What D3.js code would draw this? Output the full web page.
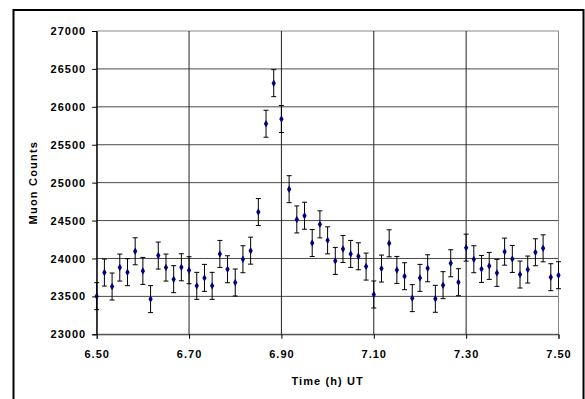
<!DOCTYPE html>
<html>
<head>
<meta charset="utf-8">
<script src="https://cdn.jsdelivr.net/npm/d3@7"></script>
<style>
  body { margin: 0; background: #fff; }
  text { font-family: "Liberation Sans", Arial, sans-serif; font-weight: bold; }
</style>
</head>
<body>
<div id="chart"></div>
<script>
// one reading per minute from 6.50 h to 7.50 h UT
const startHour = 6.5;
const stepHour = 1 / 60;
const counts = [
  23503, 23814, 23630, 23880, 23819, 24095, 23836, 23464, 24038, 23880,
  23727, 23884, 23845, 23639, 23744, 23639, 24060, 23858, 23683, 23990,
  24103, 24612, 25777, 26312, 25839, 24914, 24515, 24564, 24204, 24450,
  24239, 23968, 24125, 24060, 24029, 23893, 23525, 23867, 24200, 23849,
  23766, 23477, 23744, 23871, 23468, 23648, 23937, 23687, 24143, 23990,
  23862, 23902, 23810, 24090, 23994, 23788, 23854, 24082, 24134, 23753,
  23779
];
const errorBar = 178;
const yTicks = [23000, 23500, 24000, 24500, 25000, 25500, 26000, 26500, 27000];
const xTicks = [6.5, 6.7, 6.9, 7.1, 7.3, 7.5];

const width = 585;
const height = 399;
const margin = { left: 96.7, right: 26.5, top: 31, bottom: 64.7 };

const svg = d3.select("#chart").append("svg")
  .attr("width", width)
  .attr("height", height);

svg.append("rect").attr("width", width).attr("height", height).attr("fill", "#fff");

// outer chart frame
svg.append("rect")
  .attr("x", 13.5).attr("y", 10)
  .attr("width", 570).attr("height", 420)
  .attr("fill", "none")
  .attr("stroke", "#000")
  .attr("stroke-width", 2);

const x = d3.scaleLinear().domain([6.5, 7.5]).range([margin.left, width - margin.right]);
const y = d3.scaleLinear().domain([23000, 27000]).range([height - margin.bottom, margin.top]);

const g = svg.append("g");

// gridlines
g.selectAll(".hgrid")
  .data(yTicks)
  .enter()
  .append("line")
  .attr("x1", x(6.5)).attr("x2", x(7.5))
  .attr("y1", (d) => y(d)).attr("y2", (d) => y(d))
  .attr("stroke", (d) => (d === 27000 ? "#888" : "#4a4a4a"))
  .attr("stroke-width", 1);

g.selectAll(".vgrid")
  .data(xTicks)
  .enter()
  .append("line")
  .attr("x1", (d) => x(d)).attr("x2", (d) => x(d))
  .attr("y1", y(23000)).attr("y2", y(27000))
  .attr("stroke", (d) => (d === 7.5 ? "#888" : "#222"))
  .attr("stroke-width", 1);

// axes
const yAxis = svg.append("g")
  .attr("transform", `translate(${x(6.5)},0)`)
  .call(d3.axisLeft(y).tickValues(yTicks).tickSize(4.5).tickPadding(6).tickFormat(d3.format("d")));

const xAxis = svg.append("g")
  .attr("transform", `translate(0,${y(23000)})`)
  .call(d3.axisBottom(x).tickValues(xTicks).tickSize(4.5).tickPadding(11).tickFormat(d3.format(".2f")));

[yAxis, xAxis].forEach((a) => {
  a.select(".domain").attr("stroke", "#000");
  a.selectAll(".tick line").attr("stroke", "#000");
  a.selectAll(".tick text")
    .attr("fill", "#000")
    .style("font-size", "11px")
    .style("letter-spacing", "1px");
});
xAxis.select(".domain").attr("stroke", "#4a4a4a");

// error bars
const capHalf = 2.5;
const bars = g.selectAll(".err")
  .data(counts)
  .enter()
  .append("g")
  .attr("class", "err")
  .attr("stroke", "#000")
  .attr("stroke-width", 1);

bars.append("line")
  .attr("x1", (d, i) => x(startHour + i * stepHour))
  .attr("x2", (d, i) => x(startHour + i * stepHour))
  .attr("y1", (d) => y(d - errorBar))
  .attr("y2", (d) => y(d + errorBar));

bars.append("line")
  .attr("x1", (d, i) => x(startHour + i * stepHour) - capHalf)
  .attr("x2", (d, i) => x(startHour + i * stepHour) + capHalf)
  .attr("y1", (d) => y(d + errorBar))
  .attr("y2", (d) => y(d + errorBar));

bars.append("line")
  .attr("x1", (d, i) => x(startHour + i * stepHour) - capHalf)
  .attr("x2", (d, i) => x(startHour + i * stepHour) + capHalf)
  .attr("y1", (d) => y(d - errorBar))
  .attr("y2", (d) => y(d - errorBar));

// markers
g.selectAll(".pt")
  .data(counts)
  .enter()
  .append("path")
  .attr("class", "pt")
  .attr("d", d3.symbol(d3.symbolDiamond, 16))
  .attr("transform", (d, i) => `translate(${x(startHour + i * stepHour)},${y(d)})`)
  .attr("fill", "#000080");

// axis titles
svg.append("text")
  .attr("x", (x(6.5) + x(7.5)) / 2)
  .attr("y", 385)
  .attr("text-anchor", "middle")
  .style("font-size", "11px")
  .style("letter-spacing", "1.1px")
  .text("Time (h) UT");

svg.append("text")
  .attr("transform", `translate(37,${(y(23000) + y(27000)) / 2}) rotate(-90)`)
  .attr("text-anchor", "middle")
  .style("font-size", "11px")
  .style("letter-spacing", "1.2px")
  .text("Muon Counts");
</script>
</body>
</html>
